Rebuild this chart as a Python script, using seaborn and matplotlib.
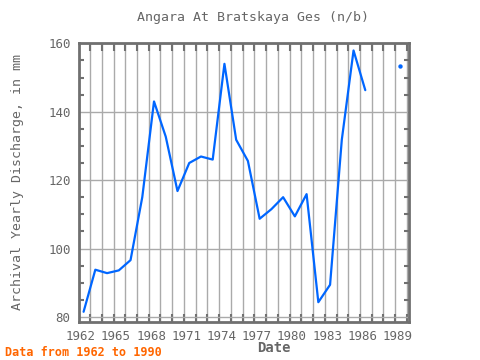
import numpy as np
import pandas as pd
import matplotlib
matplotlib.use('Agg')
import matplotlib.pyplot as plt
import seaborn as sns
from matplotlib.ticker import MultipleLocator, FixedLocator

years = np.array([1962, 1963, 1964, 1965, 1966, 1967, 1968, 1969, 1970, 1971,
                  1972, 1973, 1974, 1975, 1976, 1977, 1978, 1979, 1980, 1981,
                  1982, 1983, 1984, 1985, 1986, 1987, 1988, 1989])
discharge = np.array([81.5, 93.8, 92.8, 93.6, 96.6, 115.0, 143.0, 132.7, 116.8, 125.0,
                      126.9, 126.0, 154.0, 131.8, 125.6, 108.7, 111.5, 115.0, 109.4, 115.9,
                      84.3, 89.4, 131.8, 157.9, 146.3, np.nan, np.nan, 153.3])
xtick_years = [1962, 1965, 1968, 1971, 1974, 1977, 1980, 1983, 1986, 1989]
yticks = [80, 100, 120, 140, 160]

line_color = '#0066ff'
text_color = '#666666'
frame_color = '#707070'
grid_color = '#aaaaaa'

sns.set_style('white')
plt.rcParams['font.family'] = ['DejaVu Sans Mono', 'DejaVu Sans']

df = pd.DataFrame({'year': years + 0.25, 'value': discharge})
seg = df.iloc[:25]
alone = df.dropna().iloc[25:]

fig = plt.figure(figsize=(4.8, 3.6), dpi=100)
ax = fig.add_axes([0.1646, 0.1064, 0.6881, 0.7733])

sns.lineplot(data=seg, x='year', y='value', color=line_color, linewidth=1.6, ax=ax)
sns.scatterplot(data=alone, x='year', y='value', color=line_color, s=10,
                edgecolor=line_color, linewidth=0, ax=ax)

ax.set_xlim(1961.86, 1990.0)
ax.set_ylim(78.6, 160)

ax.xaxis.set_major_locator(FixedLocator(xtick_years))
ax.xaxis.set_minor_locator(FixedLocator(np.arange(1962.8, 1990, 1.0)))
ax.yaxis.set_major_locator(FixedLocator(yticks))
ax.yaxis.set_minor_locator(MultipleLocator(5))

ax.grid(True, which='minor', axis='x', color=grid_color, linewidth=1)
ax.grid(True, which='major', axis='y', color=grid_color, linewidth=1)
ax.set_axisbelow(True)

ax.tick_params(axis='x', which='major', length=0, labelsize=9, colors=text_color, pad=6)
ax.tick_params(axis='x', which='minor', direction='in', length=5.5, width=1.5,
               color=frame_color, top=True, bottom=True)
ax.tick_params(axis='y', which='major', direction='in', length=0, labelsize=9,
               colors=text_color, pad=6)
ax.tick_params(axis='y', which='minor', direction='in', length=3.6, width=1.5,
               color=frame_color, left=True, right=True)

for s in ax.spines.values():
    s.set_color(frame_color)
    s.set_linewidth(2)

ax.set_xlabel('')
ax.set_ylabel('')
fig.text(0.527, 0.952, 'Angara At Bratskaya Ges (n/b)', ha='center', va='center',
         fontsize=9.5, color=text_color)
fig.text(0.037, 0.495, 'Archival Yearly Discharge, in mm', rotation=90,
         ha='center', va='center', fontsize=9.5, color=text_color)
fig.text(0.571, 0.033, 'Date', ha='center', va='center', fontsize=10,
         color=text_color, fontweight='bold')
fig.text(0.01, 0.022, 'Data from 1962 to 1990', ha='left', va='center',
         fontsize=8.5, color='#ff6600', fontweight='bold')

fig.savefig('out.png', dpi=100)
